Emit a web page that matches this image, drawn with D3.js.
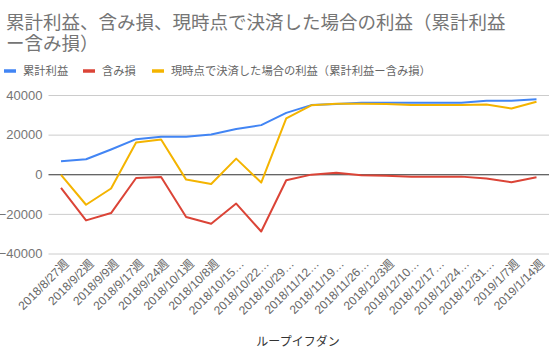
<!DOCTYPE html>
<html><head><meta charset="utf-8">
<script src="https://cdn.jsdelivr.net/npm/d3@7"></script>
<style>body{margin:0;background:#fff}svg{display:block}</style>
</head><body>
<svg id="c" width="556" height="362"></svg>
<script>
const categories = ["2018/8/27週","2018/9/2週","2018/9/9週","2018/9/17週","2018/9/24週","2018/10/1週","2018/10/8週","2018/10/15…","2018/10/22…","2018/10/29…","2018/11/12…","2018/11/19…","2018/11/26…","2018/12/3週","2018/12/10…","2018/12/17…","2018/12/24…","2018/12/31…","2019/1/7週","2019/1/14週"];
const cumulativeProfit = [6600,7600,12500,17700,18900,18900,20100,22800,24800,31000,34900,35400,36100,36100,36100,36100,36100,37100,37100,37900];
const unrealizedLoss = [-6900,-23300,-19600,-1900,-1400,-21600,-25000,-14800,-28900,-3000,-200,700,-500,-800,-1200,-1200,-1200,-2200,-4000,-1500];
const settledProfit = [-300,-15400,-7200,16000,17500,-2700,-4900,7900,-4200,28200,34800,35600,35600,35400,35000,35000,35000,35200,33200,36600];
const yTicks = [-40000,-20000,0,20000,40000];
const seriesNames = ["累計利益","含み損","現時点で決済した場合の利益（累計利益ー含み損）"];
const colors = ["#4285f4","#db4437","#f4b400"];
const titleLines = ["累計利益、含み損、現時点で決済した場合の利益（累計利益","ー含み損）"];
const xTitle = "ループイフダン";

const svg = d3.select("#c");
const cjk = "'Noto Sans CJK JP', 'Noto Sans', Arial, sans-serif";
const L = 48.5, R = 549, T = 95, B = 253.5;

const x = d3.scalePoint().domain(categories).range([L, R]).padding(0.5);
const y = d3.scaleLinear().domain([-40000, 40000]).range([B, T]);

// title
const title = svg.append("text").attr("font-family", cjk).attr("font-size", 18.5).attr("fill", "#757575");
titleLines.forEach((t, i) => title.append("tspan").attr("x", 6).attr("y", 28.5 + i * 21.5).text(t));

// legend
const legendX = [4, 83, 152];
seriesNames.forEach((n, i) => {
  const g = svg.append("g").attr("transform", `translate(${legendX[i]},71)`);
  g.append("line").attr("x1", 0).attr("x2", 12).attr("stroke", colors[i]).attr("stroke-width", 3.5);
  g.append("text").attr("x", 19).attr("dy", "0.35em").attr("font-family", cjk).attr("font-size", 11.3).attr("fill", "#666").text(n);
});

// grid + y axis
const yAxis = d3.axisLeft(y).tickValues(yTicks).tickSize(-(R - L)).tickPadding(6).tickFormat(d3.format("d"));
const ga = svg.append("g").attr("transform", `translate(${L},0)`).call(yAxis);
ga.select(".domain").remove();
ga.selectAll(".tick line").attr("stroke", d => d === 0 ? "#333" : "#ccc").attr("stroke-width", 1);
ga.selectAll(".tick text").attr("font-family", "Arial, 'Liberation Sans', sans-serif").attr("font-size", 13).attr("fill", "#757575");
ga.selectAll(".tick").filter(d => d === 0).raise();

// lines
const line = d3.line().x((d, i) => x(categories[i])).y(d => y(d));
[cumulativeProfit, unrealizedLoss, settledProfit].forEach((s, i) => {
  svg.append("path").datum(s).attr("d", line).attr("fill", "none").attr("stroke", colors[i]).attr("stroke-width", 2).attr("stroke-linejoin", "round");
});

// x axis labels
const xAxis = d3.axisBottom(x).tickSize(0).tickPadding(0);
const gx = svg.append("g").attr("transform", `translate(0,${B})`).call(xAxis);
gx.select(".domain").remove();
gx.selectAll(".tick text")
  .attr("font-family", "Arial, 'Liberation Sans', 'Noto Sans CJK JP', sans-serif").attr("font-size", 12).attr("fill", "#666")
  .attr("text-anchor", "end").attr("dy", null).attr("y", 0)
  .attr("transform", "translate(8,11) rotate(-45)");

svg.append("text").attr("x", 298).attr("y", 346).attr("text-anchor", "middle")
  .attr("font-family", cjk).attr("font-size", 12).attr("fill", "#333").text(xTitle);
</script>
</body></html>
